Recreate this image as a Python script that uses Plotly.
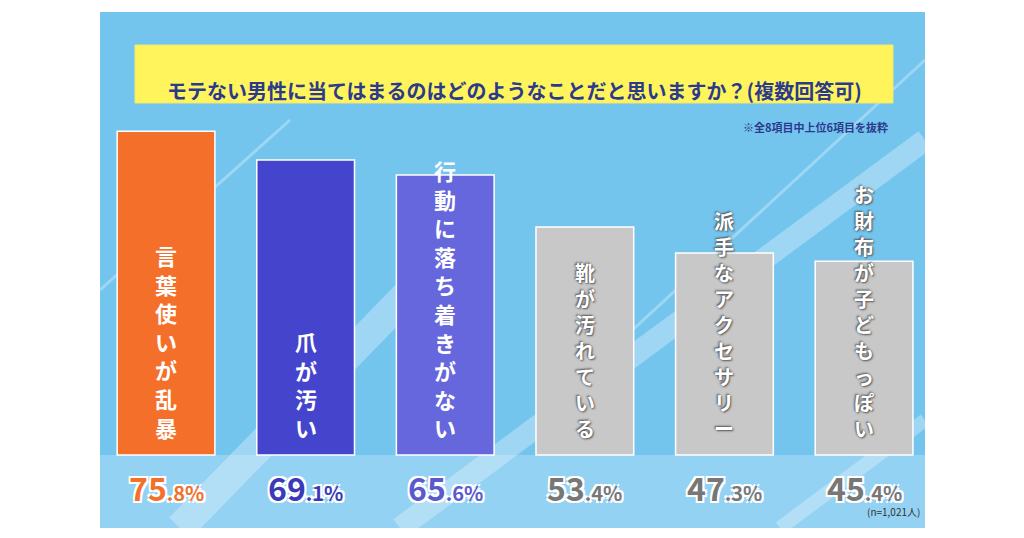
import plotly.graph_objects as go

categories = ["言葉使いが乱暴", "爪が汚い", "行動に落ち着きがない", "靴が汚れている", "派手なアクセサリー", "お財布が子どもっぽい"]
values = [75.8, 69.1, 65.6, 53.4, 47.3, 45.4]
colors = ["#F4702A", "#4444CC", "#6666DD", "#C8C8C8", "#C8C8C8", "#C8C8C8"]
label_colors = ["#F4702A", "#3A3AB8", "#5A5ACC", "#777777", "#777777", "#777777"]
title = "モテない男性に当てはまるのはどのようなことだと思いますか？(複数回答可)"
note = "※全8項目中上位6項目を抜粋"
n_note = "(n=1,021人)"

F = "Noto Sans CJK JP"
OFF = 8  # page body margin
def px(x): return (x - OFF) / 1024
def py(y): return 1 - (y - OFF) / 538

fig = go.Figure()
xs = list(range(len(values)))
fig.add_trace(go.Bar(x=xs, y=values, width=0.70, marker=dict(color=colors, line=dict(color="white", width=1.5)),
                     hoverinfo="skip"))

shapes = [
    dict(type="rect", xref="paper", yref="paper", x0=px(100), x1=px(925), y0=py(528), y1=py(12),
         fillcolor="#74C5EE", line=dict(width=0), layer="below"),
    dict(type="rect", xref="paper", yref="paper", x0=px(100), x1=px(925), y0=py(528), y1=py(455),
         fillcolor="#93D2F2", line=dict(width=0), layer="below"),
]
for (a, b, c, d, w) in [(100, 290, 290, 120, 3), (400, 528, 925, 140, 22), (600, 360, 925, 60, 3),
                        (180, 528, 460, 240, 30), (780, 528, 925, 420, 14)]:
    shapes.append(dict(type="line", xref="paper", yref="paper", x0=px(a), y0=py(b), x1=px(c), y1=py(d),
                       line=dict(color="rgba(255,255,255,0.3)", width=w), layer="below"))
shapes.append(dict(type="rect", xref="paper", yref="paper", x0=px(135), x1=px(893), y0=py(103), y1=py(45),
                   fillcolor="#FFF45C", line=dict(color="#F2E870", width=1)))

ann = [
    dict(text=title, xref="paper", yref="paper", x=px(514), y=py(74), showarrow=False,
         font=dict(family=F, size=20, color="#2B3A8C", weight="bold")),
    dict(text=note, xref="paper", yref="paper", x=px(890), y=py(117), xanchor="right", showarrow=False,
         font=dict(family=F, size=11, color="#2B3A8C", weight="bold")),
    dict(text=n_note, xref="paper", yref="paper", x=px(922), y=py(521), xanchor="right", showarrow=False,
         font=dict(family=F, size=10, color="#333333")),
]
for i, (c, v) in enumerate(zip(categories, values)):
    gray = i >= 3
    ann.append(dict(text="<br>".join(c), x=i, y=2.3, yanchor="bottom", showarrow=False,
                    font=dict(family=F, size=22 if not gray else 20, color="white", weight="bold",
                              shadow="1px 1px 2px #555, -1px -1px 2px #555" if gray else "none"),
                    ))
    s = f"{v:.1f}"
    ip, dp = s.split(".")
    ann.append(dict(text=f"{ip}<span style='font-size:20px'>.{dp}%</span>", x=i, y=-7.5, showarrow=False,
                    font=dict(family=F, size=32, color=label_colors[i], weight="bold",
                              shadow="2px 2px 0 white, -2px -2px 0 white, 2px -2px 0 white, -2px 2px 0 white")))

fig.update_layout(
    width=1024, height=538, margin=dict(l=0, r=0, t=0, b=0),
    paper_bgcolor="white", plot_bgcolor="rgba(0,0,0,0)", showlegend=False,
    xaxis=dict(range=[-1.132, 6.203], visible=False, fixedrange=True),
    yaxis=dict(range=[-21.31, 104.68], visible=False, fixedrange=True),
    shapes=shapes, annotations=ann,
)
fig.write_html("out.html")
